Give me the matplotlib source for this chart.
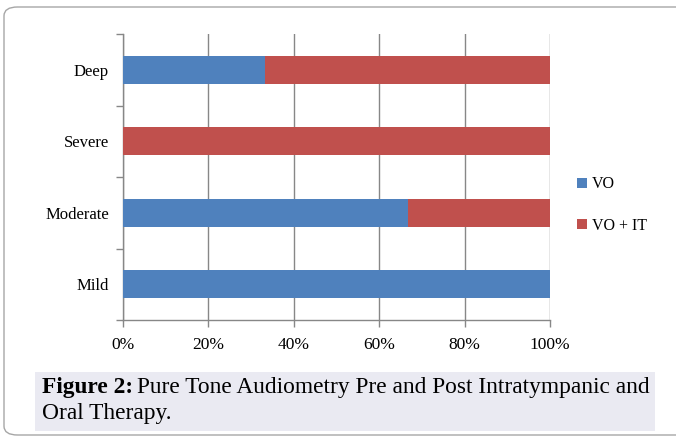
import matplotlib
matplotlib.use('Agg')
import matplotlib.pyplot as plt
from matplotlib.patches import FancyBboxPatch, Rectangle

# data
categories = ['Mild', 'Moderate', 'Severe', 'Deep']
vo = [100.0, 66.7, 0.0, 33.3]
vo_it = [0.0, 33.3, 100.0, 66.7]
series_names = ['VO', 'VO + IT']
x_ticks = [0, 20, 40, 60, 80, 100]
x_labels = ['0%', '20%', '40%', '60%', '80%', '100%']

blue = '#4F81BD'
red = '#C0504D'
grid_col = '#878787'

plt.rcParams['font.family'] = ['Liberation Serif', 'DejaVu Serif']

W, H = 676, 441
fig = plt.figure(figsize=(W / 100, H / 100), dpi=100)

# outer rounded frame
frame = FancyBboxPatch((4 / W, 1 - 435 / H), (W + 10) / W, (435 - 7) / H,
                       boxstyle='round,pad=0,rounding_size=0.02',
                       transform=fig.transFigure, fill=False,
                       edgecolor='#A6A6A6', linewidth=1.0)
fig.patches.append(frame)

ax = fig.add_axes([123 / W, 1 - 320 / H, (550 - 123) / W, (320 - 34) / H])
ypos = list(range(len(categories)))
ax.barh(ypos, vo, height=0.39, color=blue, label=series_names[0], zorder=3)
ax.barh(ypos, vo_it, left=vo, height=0.39, color=red, label=series_names[1], zorder=3)

ax.set_xlim(0, 100)
ax.set_ylim(-0.5, 3.5)
ax.set_xticks(x_ticks)
ax.set_xticklabels(x_labels, fontsize=12.5)
ax.set_yticks(ypos)
ax.set_yticklabels(categories, fontsize=12)
ax.set_yticks([-0.5, 0.5, 1.5, 2.5, 3.5], minor=True)
ax.tick_params(axis='y', which='major', length=0, pad=10)
ax.tick_params(axis='y', which='minor', length=5, color=grid_col, width=1)
ax.tick_params(axis='x', which='major', length=5, color=grid_col, width=1, pad=7)
ax.grid(axis='x', color=grid_col, linewidth=1, zorder=0)
for s in ['top', 'right']:
    ax.spines[s].set_visible(False)
for s in ['left', 'bottom']:
    ax.spines[s].set_color(grid_col)
    ax.spines[s].set_linewidth(1)

leg = ax.legend(loc='center left', bbox_to_anchor=(1.03, 0.402), frameon=False,
                fontsize=11.5, handlelength=0.6, handleheight=0.6,
                handletextpad=0.3, labelspacing=1.6)

# caption box
cap = Rectangle((35 / W, 1 - 431 / H), (655 - 35) / W, (431 - 372) / H,
                transform=fig.transFigure, facecolor='#EAEAF2', edgecolor='none')
fig.patches.append(cap)

cap_size = 16.8
t1 = fig.text(42 / W, 1 - 388 / H, 'Figure 2:', fontsize=cap_size, fontweight='bold',
              va='center', ha='left')
fig.canvas.draw()
bb = t1.get_window_extent()
fig.text((bb.x1 + 4) / W, 1 - 388 / H,
         'Pure Tone Audiometry Pre and Post Intratympanic and',
         fontsize=cap_size, va='center', ha='left')
fig.text(42 / W, 1 - 413 / H, 'Oral Therapy.', fontsize=cap_size, va='center', ha='left')

fig.savefig('out.png', dpi=100)
